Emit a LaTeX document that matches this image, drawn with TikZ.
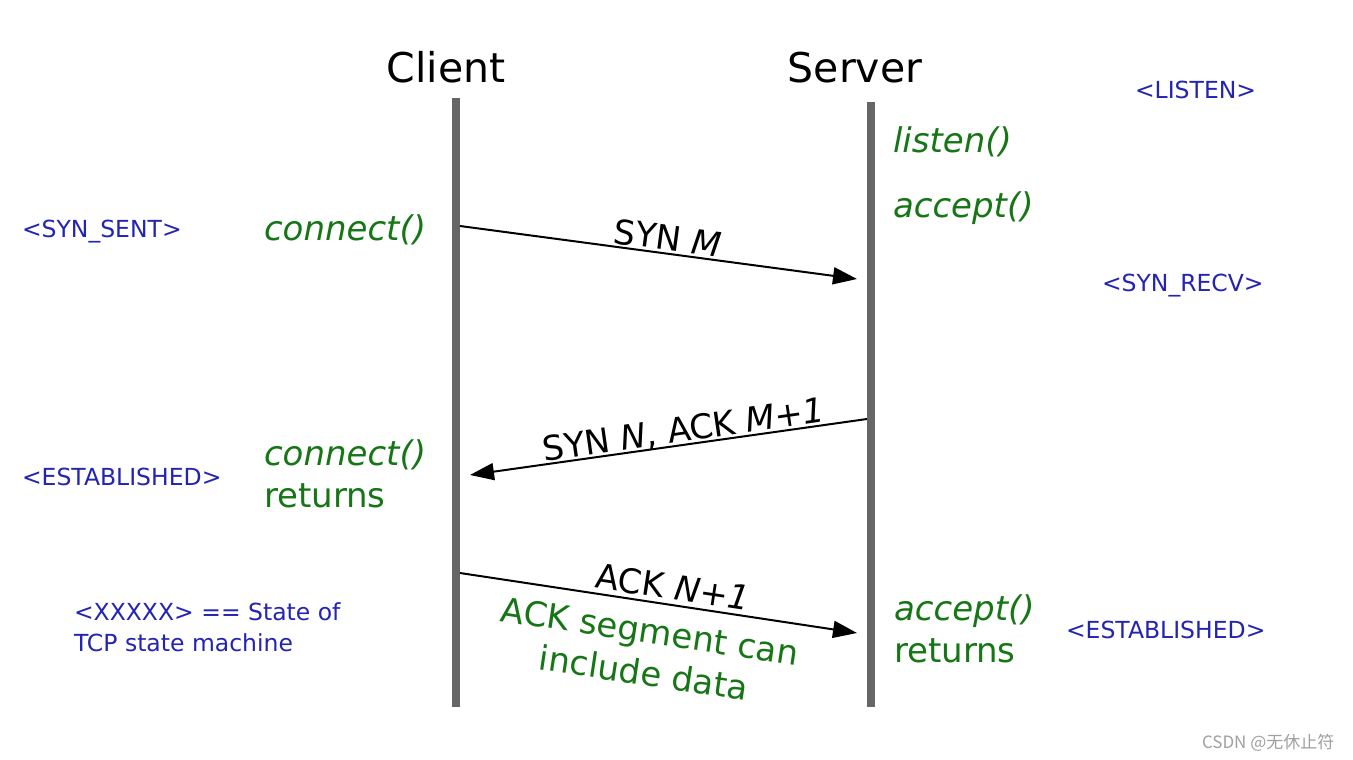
\documentclass[tikz,border=0pt]{standalone}
\usepackage{fontspec}
\setmainfont{DejaVu Sans}
\newfontfamily\cjkfont{Noto Sans CJK SC}
\usetikzlibrary{arrows.meta}
\definecolor{stategreen}{RGB}{22,118,22}
\definecolor{stateblue}{RGB}{36,36,178}
\definecolor{lifegray}{RGB}{102,102,102}
\definecolor{markgray}{RGB}{160,160,160}
\begin{document}
\begin{tikzpicture}[x=1pt,y=-1pt,
  every node/.style={inner sep=0pt, outer sep=0pt},
  title/.style={font=\fontsize{41}{48}\selectfont, anchor=base},
  call/.style={text=stategreen, font=\fontsize{34}{42}\selectfont, anchor=base west, align=left},
  state/.style={text=stateblue, font=\fontsize{23.5}{31}\selectfont, anchor=base west, align=left},
  msg/.style={font=\fontsize{34}{42}\selectfont},
  lifeline/.style={draw=lifegray, line width=8pt},
  msgarrow/.style={draw=black, line width=2pt, -{Triangle[length=24pt,width=17pt]}},
]
\path[use as bounding box, fill=white] (0,0) rectangle (1353,760);

% titles
\node[title] (client) at (446,83) {Client};
\node[title] (server) at (855,83) {Server};

% lifelines
\coordinate (ctop) at (456,98);
\coordinate (cbot) at (456,707);
\coordinate (stop) at (871,102);
\coordinate (sbot) at (871,707);
\draw[lifeline] (ctop) -- (cbot);
\draw[lifeline] (stop) -- (sbot);

% messages
\coordinate (a1s) at (460,226);
\coordinate (a1e) at (857,279);
\coordinate (a2s) at (867,419);
\coordinate (a2e) at (470,475);
\coordinate (a3s) at (460,573);
\coordinate (a3e) at (857,633);
\draw[msgarrow] (a1s) -- (a1e);
\draw[msgarrow] (a2s) -- (a2e);
\draw[msgarrow] (a3s) -- (a3e);

\node[msg, rotate=-7.6] (synm) at (668,238) {SYN \textit{M}};
\node[msg, rotate=8.2] (synack) at (684,431) {SYN \textit{N}, ACK \textit{M+1}};
\node[msg, rotate=-8.6] (ack) at (673,587) {ACK \textit{N+1}};
\node[msg, text=stategreen, align=center, rotate=-8.6] (data) at (647,652) {ACK segment can\\include data};

% calls (green)
\node[call] (listen) at (893,152) {\itshape listen()};
\node[call] (accept) at (893,217) {\itshape accept()};
\node[call] (connect) at (264,240) {\itshape connect()};
\node[call] (connret) at (264,507) {{\itshape connect()}\\returns};
\node[call] (accret) at (894,662) {{\itshape accept()}\\returns};

% states (blue)
\node[state] (slisten) at (1135,99) {<LISTEN>};
\node[state] (ssent) at (22,237) {<SYN\_SENT>};
\node[state] (srecv) at (1102,291) {<SYN\_RECV>};
\node[state] (sestc) at (22,485) {<ESTABLISHED>};
\node[state] (sests) at (1066,638) {<ESTABLISHED>};
\node[state] (legend) at (74,651) {<XXXXX> == State of\\TCP state machine};

% watermark
\node[anchor=base west, text=markgray, font=\fontsize{17}{20}\selectfont\cjkfont] (mark) at (1202,748) {CSDN @无休止符};
\end{tikzpicture}
\end{document}
